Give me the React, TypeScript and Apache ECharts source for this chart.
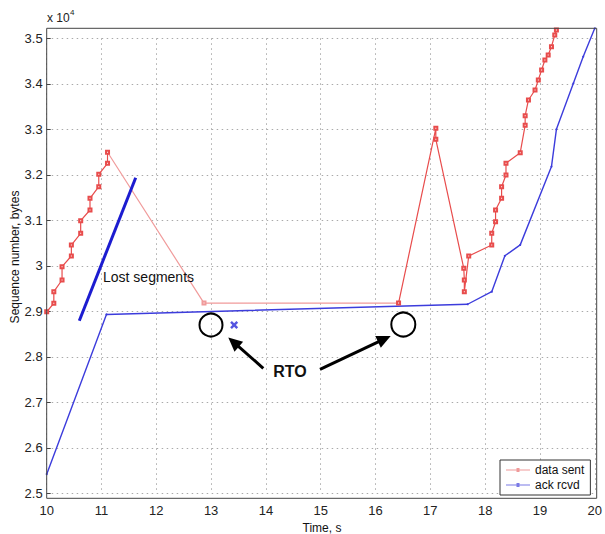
import React, { useEffect, useRef } from "react";
import * as echarts from "echarts";

// data sent (time s, sequence bytes)
const sentTime = [10.0, 10.13, 10.13, 10.28, 10.28, 10.45, 10.45, 10.62, 10.62, 10.79, 10.79, 10.95, 10.95, 11.11, 11.11, 12.87, 16.42, 17.1, 17.1, 17.61, 17.62, 17.62, 17.7, 18.12, 18.12, 18.19, 18.19, 18.3, 18.3, 18.38, 18.38, 18.64, 18.73, 18.73, 18.79, 18.91, 18.97, 19.03, 19.09, 19.15, 19.21, 19.27, 19.3];
const sentSeq = [28990, 29176, 29431, 29688, 29980, 30215, 30457, 30714, 30991, 31226, 31484, 31738, 32011, 32253, 32495, 29180, 29180, 33022, 32780, 29945, 29688, 29431, 30215, 30457, 30714, 30969, 31226, 31484, 31738, 31996, 32253, 32486, 33090, 33300, 33644, 33864, 34086, 34303, 34523, 34633, 34816, 35073, 35183];

// ack received
const ackTime = [10.0, 11.09, 17.68, 18.12, 18.36, 18.64, 19.21, 19.3, 19.61, 19.79, 20.0];
const ackSeq = [25420, 28930, 29155, 29430, 30220, 30460, 32180, 33000, 34010, 34600, 35220];

// lost retransmission mark
const lostTime = [13.42];
const lostSeq = [28700];

const xTicks = [10, 11, 12, 13, 14, 15, 16, 17, 18, 19, 20];
const yTickLabels = ["2.5", "2.6", "2.7", "2.8", "2.9", "3", "3.1", "3.2", "3.3", "3.4", "3.5"];

const FONT = "'Liberation Sans', Arial, Helvetica, sans-serif";
const RED = "#e84c4c";
const PINK = "#f09a9a";
const BLUE = "#3c3cdc";
const LEGEND_ICON = "path://M0,4.5 H24 V5.5 H0 Z M10.5,3 H13.5 V7 H10.5 Z";

function arrow(x1: number, y1: number, x2: number, y2: number) {
  const dx = x2 - x1, dy = y2 - y1;
  const len = Math.hypot(dx, dy);
  const ux = dx / len, uy = dy / len;
  const L = 14, W = 6.5;
  const bx = x2 - ux * L, by = y2 - uy * L;
  const px = -uy, py = ux;
  return [
    { type: "line", shape: { x1, y1, x2: bx + ux * 2, y2: by + uy * 2 }, style: { stroke: "#000", lineWidth: 3 }, z: 100 },
    { type: "polygon", shape: { points: [[x2, y2], [bx + px * W, by + py * W], [bx - px * W, by - py * W]] }, style: { fill: "#000" }, z: 100 },
  ];
}

export default function App() {
  const ref = useRef<HTMLDivElement>(null);
  useEffect(() => {
    if (!ref.current) return;
    const chart = echarts.init(ref.current, null, { renderer: "svg" });
    const gl = 46.7, gr = 596.7, gt = 38.3, gb = 493.3;
    chart.setOption({
      animation: false,
      backgroundColor: "#fff",
      textStyle: { fontFamily: FONT },
      grid: { left: gl, right: 605 - gr, top: gt, bottom: 534 - gb, containLabel: false },
      legend: {
        left: 500, top: 460, orient: "vertical",
        data: [
          { name: "data sent", icon: LEGEND_ICON, itemStyle: { color: PINK } },
          { name: "ack rcvd", icon: LEGEND_ICON, itemStyle: { color: "#7a7ae6" } },
        ],
        backgroundColor: "#fff", borderColor: "#333", borderWidth: 1,
        padding: [4, 6, 4, 6], itemGap: 3, itemWidth: 24, itemHeight: 4,
        textStyle: { fontSize: 12, color: "#111", fontFamily: FONT },
      },
      visualMap: {
        show: false, type: "piecewise", seriesIndex: 0, dimension: 0,
        pieces: [
          { lt: 11.12, color: RED },
          { gte: 11.12, lt: 16.41, color: PINK },
          { gte: 16.41, color: RED },
        ],
      },
      xAxis: {
        type: "value", min: xTicks[0], max: xTicks[xTicks.length - 1], interval: 1,
        axisLine: { show: false }, axisTick: { show: false },
        axisLabel: { fontSize: 13, color: "#222", margin: 11, fontFamily: FONT },
        splitLine: { show: true, lineStyle: { color: "#aaa", type: [1.5, 3.5], width: 1 } },
      },
      yAxis: {
        type: "value", min: 25000, max: 35000, interval: 1000,
        axisLine: { show: false },
        axisTick: { show: true, inside: true, length: 4, lineStyle: { color: "#444" } },
        axisLabel: {
          fontSize: 13, color: "#222", margin: 4, fontFamily: FONT,
          formatter: (v: number) => yTickLabels[Math.round((v - 25000) / 1000)] ?? "",
        },
        splitLine: { show: true, lineStyle: { color: "#aaa", type: [1.5, 3.5], width: 1 } },
      },
      series: [
        {
          name: "data sent", type: "line", clip: false,
          data: sentTime.map((t, i) => [t, sentSeq[i]]),
          symbol: "emptyRect", symbolSize: 3, showSymbol: true,
          lineStyle: { width: 1.2 },
          itemStyle: { color: RED, borderWidth: 1 },
          z: 3,
        },
        {
          name: "ack rcvd", type: "line", clip: false,
          data: ackTime.map((t, i) => [t, ackSeq[i]]),
          symbol: "circle", symbolSize: 2, showSymbol: true,
          lineStyle: { color: BLUE, width: 1.4 },
          itemStyle: { color: BLUE },
          z: 3,
        },
        {
          name: "lost", type: "scatter",
          data: lostTime.map((t, i) => [t, lostSeq[i]]),
          symbol: "path://M2.2,0 L5,2.8 L7.8,0 L10,2.2 L7.2,5 L10,7.8 L7.8,10 L5,7.2 L2.2,10 L0,7.8 L2.8,5 L0,2.2 Z",
          symbolSize: 8,
          itemStyle: { color: "#2a2ad8" },
          z: 4,
        },
      ],
      graphic: [
        { type: "rect", shape: { x: gl, y: 28.3, width: gr - gl, height: 498.3 - 28.3 }, style: { fill: "none", stroke: "#444", lineWidth: 1 }, z: 50, silent: true },
        { type: "text", x: 47, y: 18, style: { text: "x 10", font: `12px ${FONT}`, fill: "#222", verticalAlign: "middle" } },
        { type: "text", x: 70, y: 12, style: { text: "4", font: `8px ${FONT}`, fill: "#222", verticalAlign: "middle" } },
        { type: "text", x: 15, y: 257, rotation: Math.PI / 2, style: { text: "Sequence number, bytes", font: `12px ${FONT}`, fill: "#111", align: "center", verticalAlign: "middle" } },
        { type: "text", x: 322, y: 528, style: { text: "Time, s", font: `12px ${FONT}`, fill: "#111", align: "center", verticalAlign: "middle" } },
        { type: "line", shape: { x1: 79.3, y1: 320.7, x2: 135.7, y2: 177.7 }, style: { stroke: "#1c1cd0", lineWidth: 3 }, z: 100 },
        { type: "text", x: 103, y: 277, style: { text: "Lost segments", font: `14px ${FONT}`, fill: "#111", verticalAlign: "middle" }, z: 100 },
        { type: "circle", shape: { cx: 211, cy: 325, r: 11.5 }, style: { fill: "none", stroke: "#000", lineWidth: 2 }, z: 100 },
        { type: "circle", shape: { cx: 403.3, cy: 324.5, r: 12 }, style: { fill: "none", stroke: "#000", lineWidth: 2 }, z: 100 },
        ...arrow(263.3, 368.3, 228.3, 337.5),
        ...arrow(320, 369.3, 390.7, 336),
        { type: "text", x: 290, y: 371, style: { text: "RTO", font: `bold 16px ${FONT}`, fill: "#111", align: "center", verticalAlign: "middle" }, z: 100 },
      ],
    });
    return () => chart.dispose();
  }, []);
  return <div ref={ref} style={{ position: "absolute", left: 0, top: 0, width: 605, height: 534 }} />;
}
